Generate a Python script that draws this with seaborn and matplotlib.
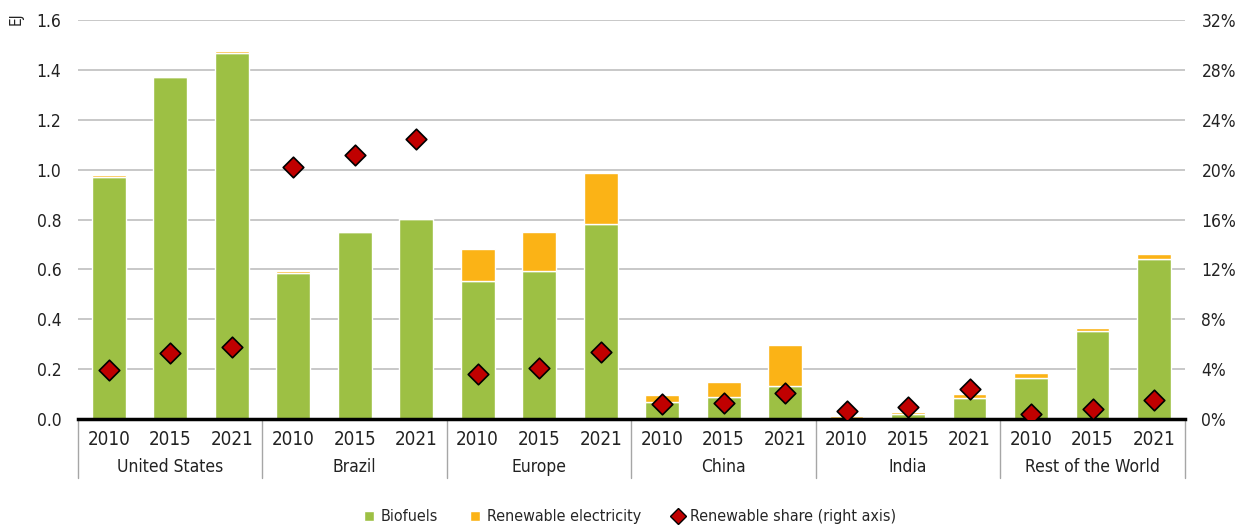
import numpy as np
import pandas as pd
import matplotlib
matplotlib.use("Agg")
import matplotlib.pyplot as plt
import seaborn as sns
from matplotlib.patches import Patch
from matplotlib.lines import Line2D
from matplotlib.transforms import blended_transform_factory

regions = ["United States", "Brazil", "Europe", "China", "India", "Rest of the World"]
years = ["2010", "2015", "2021"]

# EJ, per region x year (2010, 2015, 2021)
biofuels = [0.970, 1.370, 1.467,
            0.585, 0.748, 0.802,
            0.553, 0.592, 0.782,
            0.067, 0.087, 0.134,
            0.005, 0.020, 0.083,
            0.163, 0.354, 0.642]
renew_elec = [0.008, 0.007, 0.010,
              0.007, 0.005, 0.006,
              0.127, 0.157, 0.203,
              0.029, 0.060, 0.161,
              0.007, 0.008, 0.017,
              0.021, 0.012, 0.020]
# renewable share, %
share = [3.9, 5.3, 5.8,
         20.2, 21.2, 22.5,
         3.6, 4.1, 5.4,
         1.2, 1.3, 2.1,
         0.6, 0.95, 2.4,
         0.4, 0.8, 1.5]

df = pd.DataFrame({
    "region": np.repeat(regions, 3),
    "year": years * len(regions),
    "biofuels": biofuels,
    "elec": renew_elec,
    "share": share,
})
df["label"] = df["region"] + " " + df["year"]

green = "#9DC044"
orange = "#FBB316"
red = "#C00000"
txt = "#222222"

sns.set_style("white")
plt.rcParams["font.family"] = ["DejaVu Sans"]
plt.rcParams["font.stretch"] = "condensed"
plt.rcParams["font.size"] = 12.5

fig = plt.figure(figsize=(12.38, 5.29), dpi=100)
ax = fig.add_axes([0.063, 0.208, 0.894, 0.754])

sns.barplot(data=df, x="label", y="biofuels", color=green, width=0.55,
            saturation=1, ax=ax, zorder=2)
sns.barplot(data=df, x="label", y="elec", color=orange, width=0.55,
            saturation=1, ax=ax, bottom=df["biofuels"].values, zorder=2)

ax.set_ylim(0, 1.6)
ax.set_yticks(np.arange(0, 1.61, 0.2))
ax.set_yticklabels([f"{v:.1f}" for v in np.arange(0, 1.61, 0.2)], color=txt)
ax.set_xlim(-0.5, len(df) - 0.5)
ax.set_xticks(range(len(df)))
ax.set_xticklabels(df["year"], color=txt, fontsize=13.5)
ax.set_xlabel("")
ax.set_ylabel("")
ax.grid(axis="y", color="#BFBFBF", linewidth=1.2, zorder=0)
ax.set_axisbelow(True)
for s in ["top", "right", "left"]:
    ax.spines[s].set_visible(False)
ax.spines["bottom"].set_color("black")
ax.spines["bottom"].set_linewidth(2.5)
ax.spines["bottom"].set_zorder(5)
ax.tick_params(axis="both", length=0)
ax.tick_params(axis="y", pad=12)
ax.tick_params(axis="x", pad=8)

ax2 = ax.twinx()
sns.scatterplot(x=np.arange(len(df)), y=df["share"], ax=ax2, marker="D",
                s=110, color=red, edgecolor="black", linewidth=1.2, zorder=6)
ax2.set_ylim(0, 32)
ax2.set_yticks(np.arange(0, 33, 4))
ax2.set_yticklabels([f"{v}%" for v in range(0, 33, 4)], color=txt)
ax2.set_ylabel("")
ax2.tick_params(axis="y", length=0, pad=12)
for s in ["top", "right", "left", "bottom"]:
    ax2.spines[s].set_visible(False)
ax2.set_xlim(-0.5, len(df) - 0.5)

# group separators and region labels
trans = blended_transform_factory(ax.transData, ax.transAxes)
for i in range(len(regions) + 1):
    xb = i * 3 - 0.5
    ax.plot([xb, xb], [0, -0.148], transform=trans, color="#A6A6A6",
            linewidth=1, clip_on=False)
for i, r in enumerate(regions):
    ax.text(i * 3 + 1, -0.12, r, transform=trans, ha="center", va="center",
            color=txt, fontsize=12.5)

fig.text(0.013, 0.964, "EJ", rotation=90, ha="center", va="center",
         fontsize=11, color=txt)

handles = [
    Patch(facecolor=green, label="Biofuels"),
    Patch(facecolor=orange, label="Renewable electricity"),
    Line2D([], [], marker="D", linestyle="none", markerfacecolor=red,
           markeredgecolor="black", markersize=8, label="Renewable share (right axis)"),
]
fig.legend(handles=handles, loc="center", bbox_to_anchor=(0.509, 0.023), ncol=3,
           frameon=False, handlelength=0.6, handleheight=0.6, columnspacing=2.0,
           handletextpad=0.45, fontsize=11.5)

fig.savefig("out.png", dpi=100)
